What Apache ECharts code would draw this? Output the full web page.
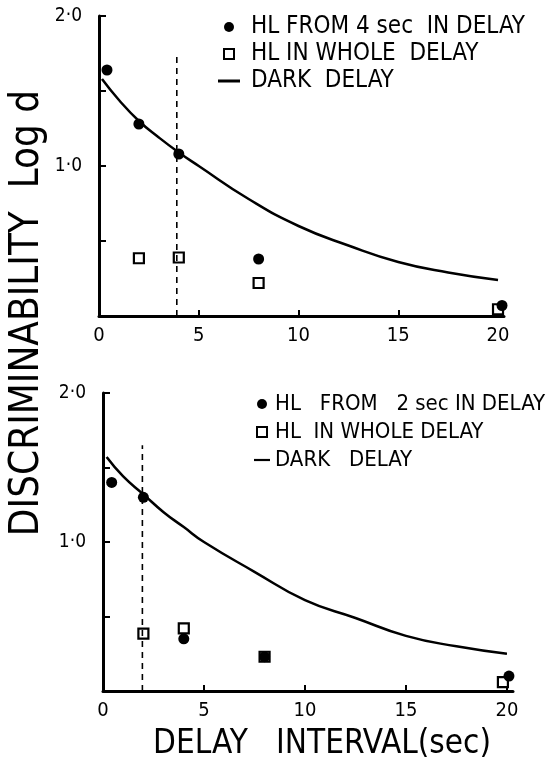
<!DOCTYPE html>
<html>
<head>
<meta charset="utf-8">
<script src="https://cdn.jsdelivr.net/npm/echarts@6/dist/echarts.min.js"></script>
<style>
html, body { margin: 0; padding: 0; background: #fff; }
#chart { width: 557px; height: 774px; }
</style>
</head>
<body>
<div id="chart"></div>
<script>
// x ticks / labels
var xTicks = [0, 5, 10, 15, 20];
var yTicks = [0.5, 1, 1.5, 2];
var yLabels = [1, 2];

// upper panel (HL from 4 sec)
var topDotX = [0.4, 2, 4, 8, 20.2];
var topDotY = [1.64, 1.28, 1.08, 0.38, 0.07];
var topSqX = [2, 4, 8, 20];
var topSqY = [0.385, 0.39, 0.22, 0.045];
var topCurveX = [0.15, 1, 2, 3, 4, 5, 7.5, 10, 12.5, 15, 17.5, 20];
var topCurveY = [1.58, 1.44, 1.30, 1.19, 1.09, 1.00, 0.78, 0.60, 0.47, 0.36, 0.29, 0.24];
var topMarkX = 3.9, topMarkTop = 1.74;

// lower panel (HL from 2 sec)
var botDotX = [0.43, 2, 4, 8, 20.1];
var botDotY = [1.40, 1.30, 0.35, 0.23, 0.10];
var botSqX = [2, 4, 8, 19.8];
var botSqY = [0.385, 0.42, 0.23, 0.06];
var botCurveX = [0.18, 1, 2, 3, 4, 5, 7.5, 10, 12.5, 15, 17.5, 20];
var botCurveY = [1.57, 1.44, 1.32, 1.20, 1.10, 1.00, 0.80, 0.61, 0.49, 0.37, 0.30, 0.25];
var botMarkX = 1.95, botMarkTop = 1.65;

var FONT = '"DejaVu Sans Condensed", "DejaVu Sans", sans-serif';
var SQUARE = 'path://M0,0 L10,0 L10,10 L0,10 Z';
var DASH = 'path://M0,0 L22,0 L22,3 L0,3 Z';

function pairs(xs, ys) {
  return xs.map(function(x, i){ return [x, ys[i]]; });
}

function xAxisFor(idx) {
  return {
    gridIndex: idx, type: 'value', min: 0, max: 20.3,
    axisLine: { lineStyle: { color: '#000', width: 3 } },
    axisTick: { inside: true, length: 6, customValues: xTicks, lineStyle: { color: '#000', width: 2 } },
    axisLabel: { customValues: xTicks, margin: 10, fontSize: 20, color: '#000', fontFamily: FONT },
    splitLine: { show: false }
  };
}
function yAxisFor(idx) {
  return {
    gridIndex: idx, type: 'value', min: 0, max: 2, interval: 0.5,
    axisLine: { show: true, lineStyle: { color: '#000', width: 3 } },
    axisTick: { show: true, inside: true, length: 7, customValues: yTicks, lineStyle: { color: '#000', width: 2 } },
    axisLabel: { customValues: yLabels, margin: 17, fontSize: 19, color: '#000', fontFamily: FONT,
      formatter: function(v){ return v.toFixed(1).replace('.', '·'); } },
    splitLine: { show: false }
  };
}

function panelSeries(idx, names, dotX, dotY, sqX, sqY, cX, cY, mX, mTop) {
  return [
    { name: names[2], type: 'line', xAxisIndex: idx, yAxisIndex: idx, smooth: true, symbol: 'none',
      data: pairs(cX, cY), lineStyle: { color: '#000', width: 2.5 }, itemStyle: { color: '#000' } },
    { type: 'line', xAxisIndex: idx, yAxisIndex: idx, symbol: 'none', silent: true,
      data: [[mX, 0], [mX, mTop]], lineStyle: { color: '#000', width: 1.6, type: [6, 5] } },
    { name: names[1], type: 'scatter', xAxisIndex: idx, yAxisIndex: idx, symbol: 'rect', symbolSize: 10, clip: false,
      data: pairs(sqX, sqY), itemStyle: { color: '#fff', borderColor: '#000', borderWidth: 2.2, opacity: 1 } },
    { name: names[0], type: 'scatter', xAxisIndex: idx, yAxisIndex: idx, symbol: 'circle', symbolSize: 11, clip: false,
      data: pairs(dotX, dotY), itemStyle: { color: '#000', opacity: 1 } }
  ];
}

var topNames = ['HL FROM 4 sec  IN DELAY', 'HL IN WHOLE  DELAY', 'DARK  DELAY'];
var botNames = ['HL   FROM   2 sec IN DELAY', 'HL  IN WHOLE DELAY', 'DARK   DELAY'];

var chart = echarts.init(document.getElementById('chart'), null, { renderer: 'canvas' });
var option = {
  backgroundColor: '#fff',
  animation: false,
  grid: [
    { left: 99, top: 16, width: 405, height: 300 },
    { left: 103, top: 393, width: 410, height: 298 }
  ],
  xAxis: [xAxisFor(0), xAxisFor(1)],
  yAxis: [yAxisFor(0), yAxisFor(1)],
  legend: [
    { orient: 'vertical', left: 213, top: 10, itemWidth: 22, itemHeight: 10, itemGap: 3,
      selectedMode: false,
      textStyle: { fontSize: 24, color: '#000', fontFamily: FONT, padding: [0, 0, 0, 6] },
      data: [
        { name: topNames[0], icon: 'circle' },
        { name: topNames[1], icon: SQUARE },
        { name: topNames[2], icon: DASH }
      ] },
    { orient: 'vertical', left: 249, top: 388, itemWidth: 16, itemHeight: 10, itemGap: 6,
      selectedMode: false,
      textStyle: { fontSize: 22, color: '#000', fontFamily: FONT },
      data: [
        { name: botNames[0], icon: 'circle' },
        { name: botNames[1], icon: SQUARE },
        { name: botNames[2], icon: DASH }
      ] }
  ],
  graphic: [
    { type: 'text', x: 28, y: 313, rotation: Math.PI / 2, originX: 0, originY: 0,
      style: { text: 'DISCRIMINABILITY  Log d', fontSize: 40, fill: '#000', fontFamily: FONT,
        align: 'center', verticalAlign: 'middle' } },
    { type: 'text', x: 322, y: 744,
      style: { text: 'DELAY   INTERVAL(sec)', fontSize: 33, fill: '#000', fontFamily: FONT,
        align: 'center', verticalAlign: 'middle' } }
  ],
  series: panelSeries(0, topNames, topDotX, topDotY, topSqX, topSqY, topCurveX, topCurveY, topMarkX, topMarkTop)
    .concat(panelSeries(1, botNames, botDotX, botDotY, botSqX, botSqY, botCurveX, botCurveY, botMarkX, botMarkTop))
};
chart.setOption(option);
</script>
</body>
</html>
